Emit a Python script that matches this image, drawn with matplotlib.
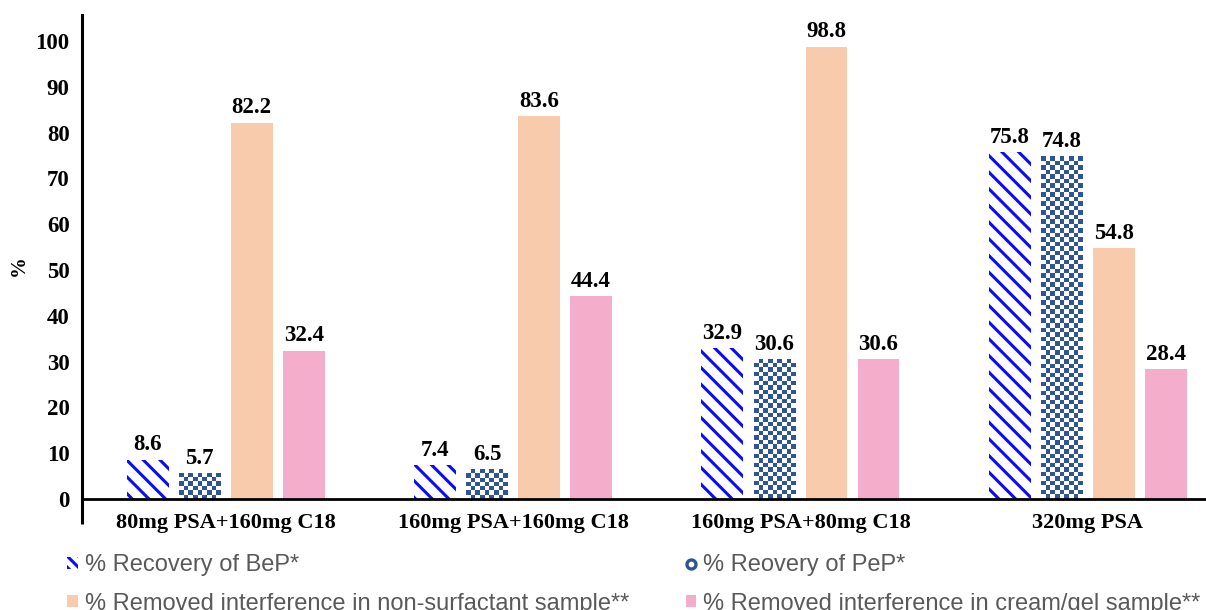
import numpy as np
import matplotlib
matplotlib.use('Agg')
from matplotlib import pyplot as plt
from matplotlib.patches import Patch
from matplotlib.lines import Line2D
from matplotlib.colors import ListedColormap

categories = ['80mg PSA+160mg C18', '160mg PSA+160mg C18', '160mg PSA+80mg C18', '320mg PSA']
bep_recovery = [8.6, 7.4, 32.9, 75.8]
pep_recovery = [5.7, 6.5, 30.6, 74.8]
removed_nonsurf = [82.2, 83.6, 98.8, 54.8]
removed_cream = [32.4, 44.4, 30.6, 28.4]
series_names = ['% Recovery of BeP*', '% Reovery of PeP*',
                '% Removed interference in non-surfactant sample**',
                '% Removed interference in cream/gel sample**']
yticks = [0, 10, 20, 30, 40, 50, 60, 70, 80, 90, 100]

blue = '#0a0aff'
navy = '#2f5597'
peach = '#f8cbad'
pink = '#f4adca'
grey_text = '#595959'

plt.rcParams['hatch.linewidth'] = 2.2
serif_bold = {'family': 'Liberation Serif', 'weight': 'bold'}

fig = plt.figure(figsize=(12.06, 6.10), dpi=100)
ax = fig.add_axes([0.068, 0.182, 0.932, 0.7934])

x = np.arange(len(categories))
step = 0.181
width = 0.146

b1 = ax.bar(x - 1.5 * step, bep_recovery, width, facecolor='white', edgecolor=blue,
            linewidth=0, hatch='\\\\')
b2 = ax.bar(x - 0.5 * step, pep_recovery, width, facecolor='white', edgecolor=navy,
            linewidth=0)
b3 = ax.bar(x + 0.5 * step, removed_nonsurf, width, color=peach, linewidth=0)
b4 = ax.bar(x + 1.5 * step, removed_cream, width, color=pink, linewidth=0)

ax.set_xlim(-0.5, 3.411)
ax.set_ylim(0, 105.7)

# checkerboard fill for the PeP bars, clipped to each bar
checker_cmap = ListedColormap(['white', navy])
fig.canvas.draw()
for bar in b2:
    x0, y0 = bar.get_x(), bar.get_y()
    x1, y1 = x0 + bar.get_width(), y0 + bar.get_height()
    p0 = ax.transData.transform((x0, y0))
    p1 = ax.transData.transform((x1, y1))
    nx = max(1, int(round((p1[0] - p0[0]) / 4.5)))
    ny = max(1, int(round((p1[1] - p0[1]) / 4.5)))
    ii, jj = np.indices((ny, nx))
    board = (ii + jj) % 2
    im = ax.imshow(board, cmap=checker_cmap, extent=(x0, x1, y0, y1), origin='lower',
                   interpolation='nearest', aspect='auto', zorder=1.5)
    im.set_clip_path(bar)

for bars in (b1, b2, b3, b4):
    ax.bar_label(bars, fmt='%.1f', padding=3, fontsize=16.5, fontfamily='Liberation Serif',
                 fontweight='bold', color='black')

ax.set_xticks(x)
ax.set_xticklabels(categories, fontdict=serif_bold, fontsize=16)
ax.set_yticks(yticks)
ax.set_yticklabels([str(t) for t in yticks], fontdict=serif_bold, fontsize=16.5)
ax.tick_params(axis='both', length=0)
ax.tick_params(axis='y', pad=9)
ax.tick_params(axis='x', pad=10)

for side in ('top', 'right'):
    ax.spines[side].set_visible(False)
ax.spines['left'].set_linewidth(2.2)
ax.spines['bottom'].set_linewidth(2.0)
# left axis line runs a little below the baseline
ax.plot([0, 0], [-5.5, 0], transform=ax.get_yaxis_transform(), clip_on=False,
        color='black', linewidth=2.2, solid_capstyle='butt')

fig.text(0.016, 0.565, '%', rotation=90, ha='center', va='center',
         fontfamily='Liberation Serif', fontweight='bold', fontsize=15)

handles = [
    Patch(facecolor='white', edgecolor=blue, linewidth=0, hatch='\\\\\\'),
    Patch(facecolor=peach, linewidth=0),
    Line2D([], [], linestyle='none', marker='o', markersize=6.5, markerfacecolor='white',
           markeredgecolor=navy, markeredgewidth=2.4),
    Patch(facecolor=pink, linewidth=0),
]
labels = [series_names[0], series_names[2], series_names[1], series_names[3]]
fig.legend(handles, labels, loc='upper left', bbox_to_anchor=(0.0555, 0.091), ncol=2,
           frameon=False, prop={'family': 'Liberation Sans', 'size': 17},
           labelcolor=grey_text, handlelength=0.45, handleheight=0.45,
           handletextpad=0.3, labelspacing=0.68, columnspacing=2.4,
           borderpad=0, borderaxespad=0)

fig.savefig('out.png', dpi=100)
